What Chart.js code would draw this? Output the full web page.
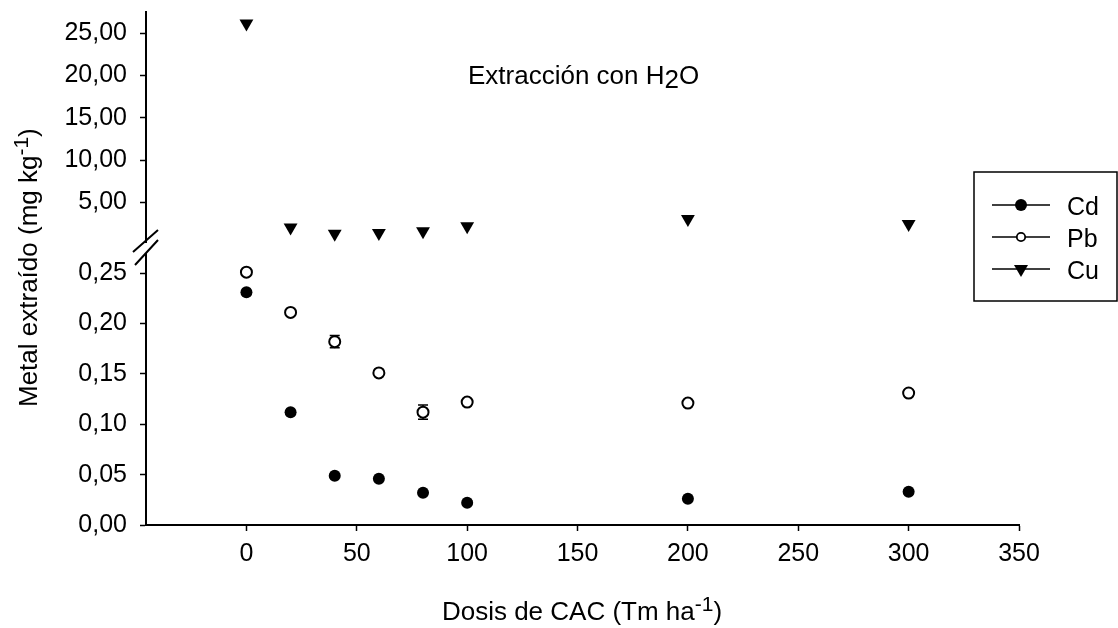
<!DOCTYPE html>
<html>
<head>
<meta charset="utf-8">
<script src="https://cdn.jsdelivr.net/npm/chart.js@4.4.1/dist/chart.umd.min.js"></script>
<style>
html,body{margin:0;padding:0;background:#fff;}
#wrap{width:1118px;height:628px;position:relative;}
</style>
</head>
<body>
<div id="wrap"><canvas id="c" width="1118" height="628"></canvas></div>
<script>
// ---- data ----
const doses = [0, 20, 40, 60, 80, 100, 200, 300];
const cd = [0.231, 0.112, 0.049, 0.046, 0.032, 0.022, 0.026, 0.033];
const pb = [0.251, 0.211, 0.182, 0.151, 0.112, 0.122, 0.121, 0.131];
const cu = [26.14, 2.06, 1.33, 1.41, 1.61, 2.20, 3.06, 2.47];
const pbErr = [0, 0, 0.006, 0, 0.007, 0.003, 0, 0.003];
const cdErr = [0, 0, 0, 0, 0.002, 0.002, 0, 0.002];
const xTicks = [0, 50, 100, 150, 200, 250, 300, 350];
const lowerTicks = [0, 0.05, 0.10, 0.15, 0.20, 0.25];
const upperTicks = [5, 10, 15, 20, 25];
const seriesNames = ['Cd', 'Pb', 'Cu'];
const titleParts = [{t: 'Extracción con H'}, {t: '2', dy: 4}, {t: 'O'}];
const yTitleParts = [{t: 'Metal extraído (mg kg'}, {t: '-1', dy: -9, size: 21}, {t: ')'}];
const xTitleParts = [{t: 'Dosis de CAC (Tm ha'}, {t: '-1', dy: -9, size: 21}, {t: ')'}];

const FONT = "'Liberation Sans', Arial, sans-serif";
const fmt = v => v.toFixed(2).replace('.', ',');
const pts = arr => doses.map((d, i) => ({x: d, y: arr[i]}));

function drawRich(ctx, parts, x, y, size, align) {
  let total = 0;
  parts.forEach(p => { ctx.font = (p.size || size) + 'px ' + FONT; total += ctx.measureText(p.t).width; });
  let cx = align === 'center' ? x - total / 2 : x;
  ctx.textAlign = 'left';
  ctx.textBaseline = 'alphabetic';
  parts.forEach(p => {
    ctx.font = (p.size || size) + 'px ' + FONT;
    ctx.fillText(p.t, cx, y + (p.dy || 0));
    cx += ctx.measureText(p.t).width;
  });
}

const extras = {
  id: 'extras',
  beforeDatasetsDraw(chart) {
    const ctx = chart.ctx, xs = chart.scales.x, yl = chart.scales.yL;
    ctx.save();
    ctx.strokeStyle = '#000';
    ctx.lineWidth = 1.5;
    const bars = (vals, errs) => {
      vals.forEach((v, i) => {
        if (!errs[i]) return;
        const px = xs.getPixelForValue(doses[i]);
        const y1 = yl.getPixelForValue(v + errs[i]);
        const y2 = yl.getPixelForValue(v - errs[i]);
        ctx.beginPath();
        ctx.moveTo(px, y1); ctx.lineTo(px, y2);
        ctx.moveTo(px - 5, y1); ctx.lineTo(px + 5, y1);
        ctx.moveTo(px - 5, y2); ctx.lineTo(px + 5, y2);
        ctx.stroke();
      });
    };
    bars(pb, pbErr);
    bars(cd, cdErr);
    ctx.restore();
  },
  afterDraw(chart) {
    const ctx = chart.ctx;
    const yl = chart.scales.yL;
    const ax = chart.chartArea.left;
    const B = yl.top;
    ctx.save();
    // axis break
    ctx.fillStyle = '#fff';
    ctx.fillRect(ax - 3, B - 10, 6, 10);
    ctx.strokeStyle = '#000';
    ctx.lineWidth = 2;
    ctx.beginPath();
    ctx.moveTo(ax - 13, B - 1); ctx.lineTo(ax + 12, B - 23);
    ctx.moveTo(ax - 11, B + 12); ctx.lineTo(ax + 12, B - 13);
    ctx.stroke();
    // titles
    ctx.fillStyle = '#000';
    drawRich(ctx, titleParts, 468, 84, 26, 'left');
    drawRich(ctx, xTitleParts, 582, 620, 26, 'center');
    ctx.save();
    ctx.translate(37, 407);
    ctx.rotate(-Math.PI / 2);
    drawRich(ctx, yTitleParts, 0, 0, 26, 'left');
    ctx.restore();
    // legend
    ctx.lineWidth = 1.5;
    ctx.strokeRect(974, 172, 143, 129);
    const rows = [205, 237, 269];
    seriesNames.forEach((n, i) => {
      const y = rows[i];
      ctx.lineWidth = 1.5;
      ctx.beginPath(); ctx.moveTo(992, y); ctx.lineTo(1050, y); ctx.stroke();
      if (i === 0) {
        ctx.beginPath(); ctx.arc(1021, y, 6, 0, Math.PI * 2); ctx.fillStyle = '#000'; ctx.fill();
      } else if (i === 1) {
        ctx.beginPath(); ctx.arc(1021, y, 4.2, 0, Math.PI * 2); ctx.fillStyle = '#fff'; ctx.fill();
        ctx.lineWidth = 1.8; ctx.stroke();
      } else {
        ctx.beginPath();
        ctx.moveTo(1014, y - 4); ctx.lineTo(1028, y - 4); ctx.lineTo(1021, y + 8); ctx.closePath();
        ctx.fillStyle = '#000'; ctx.fill();
      }
      ctx.fillStyle = '#000';
      ctx.font = '25px ' + FONT;
      ctx.textAlign = 'left';
      ctx.textBaseline = 'alphabetic';
      ctx.fillText(n, 1067, y + 10);
    });
    ctx.restore();
  }
};

const tickFont = {family: FONT, size: 25};
new Chart(document.getElementById('c'), {
  type: 'scatter',
  data: {
    datasets: [
      {label: 'Cd', data: pts(cd), yAxisID: 'yL', pointStyle: 'circle', pointRadius: 6,
       backgroundColor: '#000', borderColor: '#000', borderWidth: 0, showLine: false},
      {label: 'Pb', data: pts(pb), yAxisID: 'yL', pointStyle: 'circle', pointRadius: 5.5,
       backgroundColor: '#fff', borderColor: '#000', borderWidth: 2, showLine: false},
      {label: 'Cu', data: pts(cu), yAxisID: 'yU', pointStyle: 'triangle', rotation: 180, pointRadius: 8,
       backgroundColor: '#000', borderColor: '#000', borderWidth: 0, showLine: false}
    ]
  },
  options: {
    responsive: false,
    animation: false,
    events: [],
    layout: {padding: {left: 0, right: 99, top: 12, bottom: 0}},
    plugins: {legend: {display: false}, tooltip: {enabled: false}, title: {display: false}},
    scales: {
      x: {
        type: 'linear', min: -45.5, max: 350,
        afterBuildTicks: s => { s.ticks = xTicks.map(v => ({value: v})); },
        afterFit: s => { s.height = 103; s.paddingLeft = 0; s.paddingRight = 0; },
        ticks: {font: tickFont, color: '#000', padding: 8, maxRotation: 0, autoSkip: false,
                callback: v => String(v)},
        grid: {drawOnChartArea: false, drawTicks: true, tickLength: 6, tickWidth: 1.5, tickColor: '#000'},
        border: {display: true, color: '#000', width: 2}
      },
      yL: {
        type: 'linear', position: 'left', stack: 'ys', stackWeight: 272,
        min: 0, max: 0.27,
        afterBuildTicks: s => { s.ticks = lowerTicks.map(v => ({value: v})); },
        afterFit: s => { s.width = 146; s.paddingTop = 0; s.paddingBottom = 0; },
        ticks: {font: tickFont, color: '#000', padding: 13, autoSkip: false, callback: v => fmt(v)},
        grid: {drawOnChartArea: false, drawTicks: true, tickLength: 6, tickWidth: 1.5, tickColor: '#000'},
        border: {display: true, color: '#000', width: 2}
      },
      yU: {
        type: 'linear', position: 'left', stack: 'ys', stackWeight: 241,
        min: -0.95, max: 27.5,
        afterBuildTicks: s => { s.ticks = upperTicks.map(v => ({value: v})); },
        afterFit: s => { s.width = 146; s.paddingTop = 0; s.paddingBottom = 0; },
        ticks: {font: tickFont, color: '#000', padding: 13, autoSkip: false, callback: v => fmt(v)},
        grid: {drawOnChartArea: false, drawTicks: true, tickLength: 6, tickWidth: 1.5, tickColor: '#000'},
        border: {display: true, color: '#000', width: 2}
      }
    }
  },
  plugins: [extras]
});
</script>
</body>
</html>
